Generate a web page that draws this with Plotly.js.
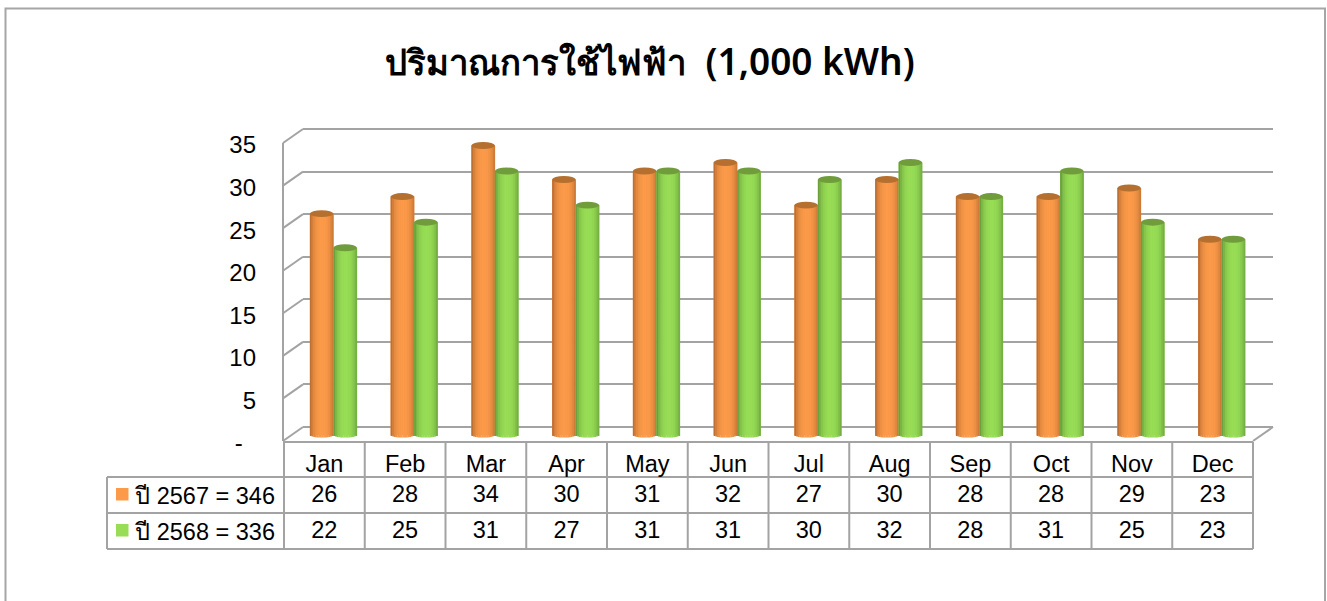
<!DOCTYPE html>
<html>
<head>
<meta charset="utf-8">
<script src="https://cdn.plot.ly/plotly-3.0.1.min.js"></script>
<style>html,body{margin:0;padding:0;background:#fff}#c{width:1327px;height:601px}</style>
</head>
<body>
<div id="c"></div>
<script>
const months = ['Jan','Feb','Mar','Apr','May','Jun','Jul','Aug','Sep','Oct','Nov','Dec'];
const series1Name = 'ปี 2567 = 346';
const series2Name = 'ปี 2568 = 336';
const series1 = [26,28,34,30,31,32,27,30,28,28,29,23];
const series2 = [22,25,31,27,31,31,30,32,28,31,25,23];
const yTicks = [0,5,10,15,20,25,30,35];
const yTickText = ['-\u00a0\u00a0','5','10','15','20','25','30','35'];
const titleThai = 'ปริมาณการใช้ไฟฟ้า';
const titleLatin = '(1,000 kWh)';

const W = 1327, H = 601;
const dx = (a,b)=>[a/W,b/W];
const dy = (t,b)=>[1-b/H,1-t/H];
const px = x=>x/W, py = y=>1-y/H;
const GRID = '#a3a3a3';
const FONT = '"Liberation Sans","Noto Sans",sans-serif';
const unit = 298/35;

const orange = {mid:[251,154,73], dark:[172,100,44], top:'#b5702f'};
const green  = {mid:[152,221,85], dark:[92,142,54], top:'#709c3c'};
const barW = 0.291, N = 14, botH = 0.3, topH = 0.41;

function col(c,f){return 'rgb('+c.mid.map((m,i)=>Math.round(c.dark[i]+(m-c.dark[i])*f)).join(',')+')';}

const traces = [];
traces.push({type:'scatter',x:[],y:[],xaxis:'x',yaxis:'y',showlegend:false,hoverinfo:'skip'});
traces.push({type:'scatter',x:[],y:[],xaxis:'x2',yaxis:'y2',showlegend:false,hoverinfo:'skip'});

const shapes = [];
function addSeries(name,vals,c,off){
  traces.push({type:'bar',name:name,x:months,y:vals,width:barW,offset:off,xaxis:'x3',yaxis:'y3',
    marker:{color:col(c,0.85),line:{width:0}},showlegend:false,hoverinfo:'x+y'});
  for(let i=0;i<N;i++){
    const t=(i+0.5)/N*2-1, s=Math.sqrt(1-t*t);
    const f=Math.pow(Math.max(0,1-Math.pow(Math.abs(t-0.05)/1.05,2.4)),0.8);
    const b=-botH*s;
    traces.push({type:'bar',x:months,y:vals.map(v=>v-b),base:b,
      width:barW/N*1.15,offset:off+barW*i/N,xaxis:'x3',yaxis:'y3',
      marker:{color:col(c,f),line:{width:0}},showlegend:false,hoverinfo:'skip'});
  }
  vals.forEach((v,i)=>shapes.push({type:'circle',xref:'x3',yref:'y3',layer:'above',
    x0:i+off,x1:i+off+barW,y0:v-topH,y1:v+topH,fillcolor:c.top,line:{width:0}}));
}
addSeries(series1Name,series1,orange,-barW);
addSeries(series2Name,series2,green,0);

[[series1Name,series1],[series2Name,series2]].forEach(([n,v])=>{
  traces.push({type:'scatter',mode:'text',x:months,y:months.map(()=>n),text:v.map(String),
    textposition:'middle center',textfont:{family:FONT,size:23.5,color:'#000'},
    xaxis:'x',yaxis:'y4',showlegend:false,hoverinfo:'skip',cliponaxis:false});
});

function line(x0,y0,x1,y1,w){shapes.push({type:'line',xref:'paper',yref:'paper',layer:'below',
  x0:px(x0),y0:py(y0),x1:px(x1),y1:py(y1),line:{color:GRID,width:w||2}});}
shapes.push({type:'rect',xref:'paper',yref:'paper',layer:'below',x0:px(5.5),x1:px(1325),y0:py(8.5),y1:py(640),
  line:{color:'#a6a6a6',width:2},fillcolor:'rgba(0,0,0,0)'});
yTicks.forEach(v=>line(283,441-v*unit,303,427-v*unit));
line(283,143,283,441);
line(1253,441,1273,427);
line(283,442,1253,442);
const colW=(1253-284)/12;
for(let i=0;i<=12;i++) line(284+i*colW,442,284+i*colW,549);
[477,513,549].forEach(y=>line(107,y,1253,y));
line(107,477,107,549);
[[orange,488],[green,524]].forEach(([c,y])=>shapes.push({type:'rect',xref:'paper',yref:'paper',layer:'below',
  x0:px(116),x1:px(128.5),y0:py(y),y1:py(y+12.5),fillcolor:col(c,1),line:{width:0}}));

const layout = {
  width:W,height:H,margin:{l:0,r:0,t:0,b:0},autosize:false,
  paper_bgcolor:'#fff',plot_bgcolor:'rgba(0,0,0,0)',barmode:'overlay',showlegend:false,
  title:{text:'<span style="font-size:34.7px">'+titleThai+'</span>  '+titleLatin,x:650/W,xanchor:'center',y:1-62/H,yanchor:'middle',
    font:{family:'"Noto Sans","Liberation Sans",sans-serif',size:37,color:'#000',weight:600}},
  xaxis:{domain:dx(284,1253),type:'category',categoryorder:'array',categoryarray:months,range:[-0.5,11.5],
    anchor:'y',showgrid:false,zeroline:false,showline:false,ticks:'',ticklabelstandoff:4,
    tickfont:{family:FONT,size:23.5,color:'#000'},tickangle:0,fixedrange:true},
  yaxis:{domain:dy(145,443),range:[0,35],anchor:'x',tickmode:'array',tickvals:yTicks,ticktext:yTickText,
    showgrid:false,zeroline:false,showline:false,ticks:'',ticklabelstandoff:27,
    tickfont:{family:FONT,size:24,color:'#000'},fixedrange:true},
  xaxis2:{domain:dx(303,1273),range:[0,1],anchor:'y2',visible:false,fixedrange:true},
  yaxis2:{domain:dy(129-unit,427+unit),range:[-1,36],anchor:'x2',tickmode:'array',tickvals:yTicks,showgrid:true,gridcolor:GRID,gridwidth:2,
    zeroline:false,showline:false,showticklabels:false,ticks:'',fixedrange:true},
  xaxis3:{domain:dx(293,1262),type:'category',categoryorder:'array',categoryarray:months,range:[-0.5,11.5],anchor:'y3',visible:false,fixedrange:true},
  yaxis3:{domain:dy(435-36*unit,435+unit),range:[-1,36],anchor:'x3',visible:false,fixedrange:true},
  yaxis4:{domain:dy(478,550),type:'category',categoryorder:'array',categoryarray:[series2Name,series1Name],range:[-0.5,1.5],
    anchor:'x',showgrid:false,zeroline:false,showline:false,ticks:'',ticklabelstandoff:8,
    tickfont:{family:FONT,size:23.5,color:'#000'},fixedrange:true},
  shapes:shapes
};
Plotly.newPlot('c',traces,layout,{displayModeBar:false,staticPlot:true});
</script>
</body>
</html>
